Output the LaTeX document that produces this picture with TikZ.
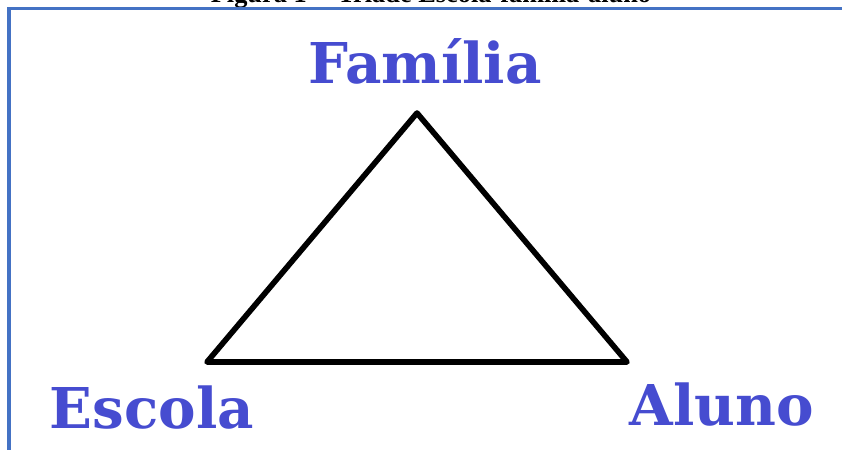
\documentclass[tikz,border=0pt]{standalone}
\usepackage{fontspec}
\setmainfont{DejaVu Serif}
\newfontfamily\capfont{Liberation Serif}
\definecolor{frameblue}{RGB}{68,114,196}
\definecolor{labelblue}{RGB}{70,76,208}
\tikzset{
  vertex label/.style={anchor=base, text=labelblue, inner sep=0pt,
    font=\fontsize{48}{50}\selectfont\bfseries},
  side/.style={line width=4.8pt, line join=round, line cap=round}
}
\begin{document}
\begin{tikzpicture}[x=0.03cm, y=-0.03cm]
  \useasboundingbox (0,0) rectangle (842,450);

  % caption, cut off at the top
  \begin{scope}
    \clip (0,0) rectangle (842,450);
    \node[anchor=base, inner sep=0pt, font=\capfont\fontsize{22.5}{24}\selectfont\bfseries]
      (caption) at (431,3) {Figura 1 -- Tríade Escola-família-aluno};
  \end{scope}

  % frame
  \draw[frameblue, line width=2.8pt] (9,452) -- (9,8.5) -- (844,8.5);

  % labels
  \node[vertex label] (familia) at (425,83) {Família};
  \node[vertex label] (escola) at (152,428) {Escola};
  \node[vertex label] (aluno) at (722,425) {Aluno};

  % triangle
  \coordinate (top) at (417,113);
  \coordinate (left) at (207,362);
  \coordinate (right) at (627,362);
  \draw[side] (top) -- (right) -- (left) -- cycle;
\end{tikzpicture}
\end{document}
